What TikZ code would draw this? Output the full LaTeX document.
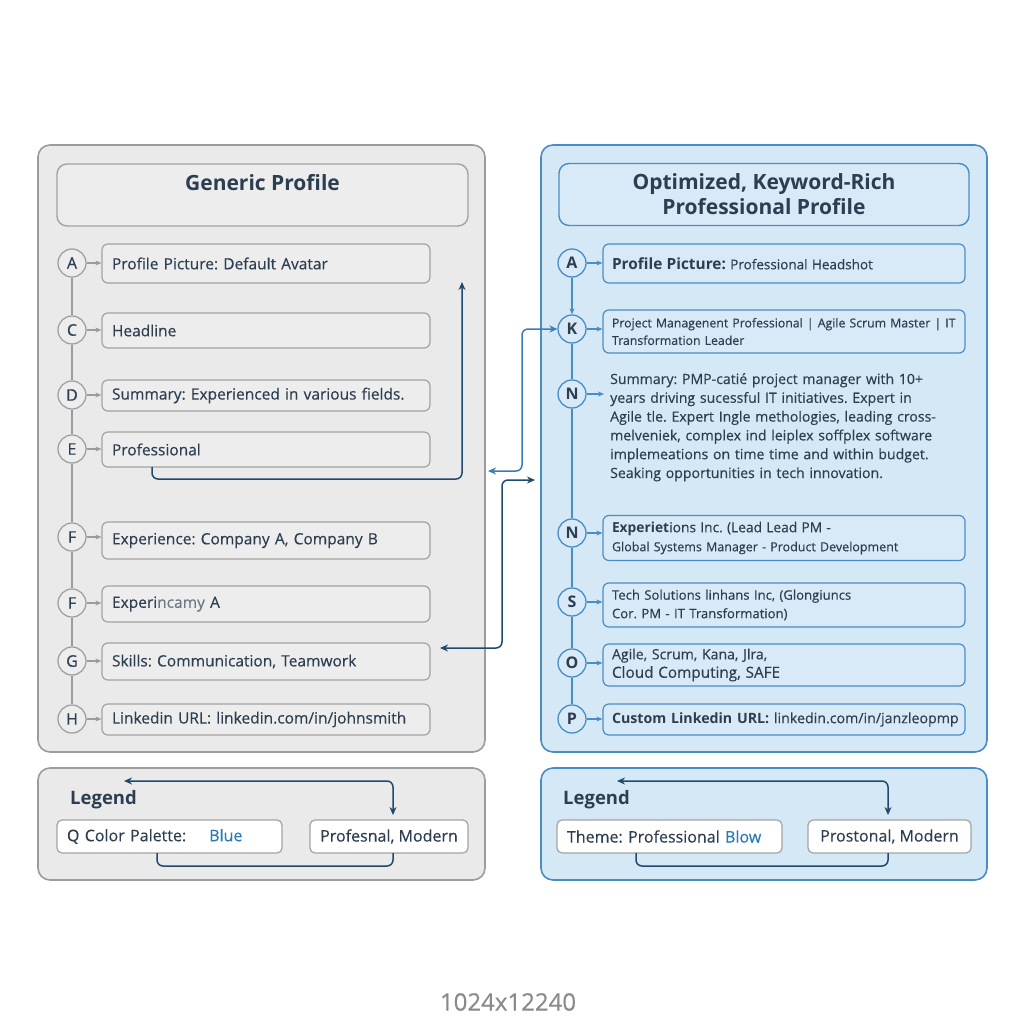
\documentclass[tikz,border=0pt]{standalone}
\usepackage{fontspec}
\setmainfont{Open Sans}[UprightFeatures={FakeBold=0.3}]
\usetikzlibrary{arrows.meta}
\frenchspacing
\definecolor{gfill}{HTML}{EAEAEA}
\definecolor{gborder}{HTML}{9C9C9C}
\definecolor{gboxfill}{HTML}{EDEDED}
\definecolor{gboxborder}{HTML}{A3A3A3}
\definecolor{bfill}{HTML}{D5E8F5}
\definecolor{bborder}{HTML}{4A8CC4}
\definecolor{bboxfill}{HTML}{D8EAF7}
\definecolor{txt}{HTML}{2C3E50}
\definecolor{navy}{HTML}{1F4A6E}
\definecolor{bconn}{HTML}{3A7DB5}
\definecolor{bluetxt}{HTML}{2A7AB8}
\definecolor{capgray}{HTML}{8A8A8A}
\tikzset{
  >={Stealth[length=8pt,width=7pt]},
  gpanel/.style={draw=gborder, fill=gfill, line width=1.6pt, rounded corners=12pt},
  bpanel/.style={draw=bborder, fill=bfill, line width=1.6pt, rounded corners=12pt},
  ghead/.style={draw=gboxborder, fill=gboxfill, line width=1.4pt, rounded corners=10pt, text=txt, font=\fontsize{21}{25}\selectfont\bfseries, align=center},
  bhead/.style={draw=bborder, fill=bboxfill, line width=1.4pt, rounded corners=10pt, text=txt, font=\fontsize{21}{25}\selectfont\bfseries, align=center},
  gbox/.style={draw=gboxborder, fill=gboxfill, line width=1.2pt, rounded corners=6pt, text=txt, font=\fontsize{15.5}{18}\selectfont, align=left, inner xsep=10pt, inner ysep=0pt, minimum width=328, text width=308},
  bbox/.style={draw=bborder, fill=bboxfill, line width=1.2pt, rounded corners=6pt, text=txt, font=\fontsize{13}{18}\selectfont, align=left, inner xsep=9pt, inner ysep=0pt, minimum width=362, text width=344},
  gcirc/.style={circle, draw=gborder, fill=gboxfill, line width=1.2pt, minimum size=28, inner sep=0pt, text=txt, font=\fontsize{16}{16}\selectfont},
  bcirc/.style={circle, draw=bborder, fill=bboxfill, line width=1.3pt, minimum size=28, inner sep=0pt, text=txt, font=\fontsize{16}{16}\selectfont\bfseries},
  gline/.style={draw=gborder, line width=1.3pt},
  bline/.style={draw=bborder, line width=1.4pt},
  garr/.style={draw=gborder, line width=1.1pt, -{Stealth[length=6pt,width=5pt]}},
  barr/.style={draw=bborder, line width=1.2pt, -{Stealth[length=6pt,width=5pt]}},
  navyconn/.style={draw=navy, line width=1.5pt, rounded corners=6pt},
  blueconn/.style={draw=bconn, line width=1.5pt, rounded corners=6pt},
  legbox/.style={draw=gboxborder, fill=white, line width=1.2pt, rounded corners=5pt, text=txt, font=\fontsize{16}{18}\selectfont, inner xsep=10pt, inner ysep=0pt, minimum height=33},
  legtitle/.style={text=txt, font=\fontsize{18.5}{20}\selectfont\bfseries, anchor=west, inner sep=0pt},
}
\begin{document}
\begin{tikzpicture}[x=1pt,y=-1pt]
\fill[white] (0,0) rectangle (1024,1024);
\useasboundingbox (0,0) rectangle (1024,1024);

% ---------- panels ----------
\node[gpanel, minimum width=447, minimum height=607] (lpanel) at (261.5,448.5) {};
\node[bpanel, minimum width=446, minimum height=607] (rpanel) at (764,448.5) {};
\node[gpanel, minimum width=447, minimum height=112] (lleg) at (261.5,824) {};
\node[bpanel, minimum width=446, minimum height=112] (rleg) at (764,824) {};

% ---------- headers ----------
\node[ghead, minimum width=411, minimum height=62] (lhead) at (262.5,195) {Generic Profile\\[1pt]\mbox{}};
\node[bhead, minimum width=410, minimum height=62] (rhead) at (764,194.5) {Optimized, Keyword-Rich\\Professional Profile};

% ---------- left rows ----------
\node[gbox, minimum height=39] (lA) at (266,263.5) {Profile Picture: Default Avatar};
\node[gbox, minimum height=35] (lC) at (266,330.5) {Headline};
\node[gbox, minimum height=31] (lD) at (266,395.5) {Summary: Experienced in various fields.};
\node[gbox, minimum height=35] (lE) at (266,449.5) {Professional};
\node[gbox, minimum height=37] (lF1) at (266,540.5) {Experience: Company A, Company B};
\node[gbox, minimum height=36] (lF2) at (266,604) {Experi\textcolor{txt!70}{ncamy} A};
\node[gbox, minimum height=37] (lG) at (266,661.5) {Skills: Communication, Teamwork};
\node[gbox, minimum height=31] (lH) at (266,719.5) {Linkedin URL: linkedin.com/in/johnsmith};

\node[gcirc] (cA) at (72,263) {A};
\node[gcirc] (cC) at (72,330) {C};
\node[gcirc] (cD) at (72,395) {D};
\node[gcirc] (cE) at (72,449) {E};
\node[gcirc] (cF1) at (72,537) {F};
\node[gcirc] (cF2) at (72,603) {F};
\node[gcirc] (cG) at (72,661) {G};
\node[gcirc] (cH) at (72,719) {H};

\draw[gline] (cA) -- (cC);
\draw[gline] (cC) -- (cD);
\draw[gline] (cD) -- (cE);
\draw[gline] (cE) -- (cF1);
\draw[gline] (cF1) -- (cF2);
\draw[gline] (cF2) -- (cG);
\draw[gline] (cG) -- (cH);

\foreach \c/\b in {cA/lA, cC/lC, cD/lD, cE/lE, cG/lG, cH/lH}
  \draw[garr] (\c.east) -- (\c.east -| \b.west);
\draw[garr] (cF1.east) -- (cF1.east -| lF1.west);
\draw[garr] (cF2.east) -- (cF2.east -| lF2.west);

% ---------- right rows ----------
\node[bbox, minimum height=39] (rA) at (784,263.5) {\mbox{\fontsize{15.4}{18}\selectfont\bfseries Profile Picture: \fontsize{13.5}{18}\selectfont\mdseries Professional Headshot}};
\node[bbox, minimum height=43, font=\fontsize{12.3}{17.5}\selectfont] (rK) at (784,331.5) {\mbox{Project Managenent Professional | Agile Scrum Master | IT}\\\mbox{Transformation Leader}};
\node[text=txt, font=\fontsize{14.1}{18.8}\selectfont, align=left, anchor=north west, inner sep=0pt, text width=352] (rNtext) at (610,373) {\mbox{Summary: PMP-catié project manager with 10+}\\\mbox{years driving sucessful IT initiatives. Expert in}\\\mbox{Agile tle. Expert Ingle methologies, leading cross-}\\\mbox{melveniek, complex ind leiplex soffplex software}\\\mbox{implemeations on time time and within budget.}\\\mbox{Seaking opportunities in tech innovation.}};
\node[bbox, minimum height=45, font=\fontsize{12.5}{19}\selectfont] (rN2) at (784,538) {\mbox{\fontsize{13.8}{19}\selectfont\bfseries Experiet\mdseries ions Inc. (Lead Lead PM -}\\\mbox{Global Systems Manager - Product Development}};
\node[bbox, minimum height=44, font=\fontsize{13.1}{18.5}\selectfont] (rS) at (784,605) {\mbox{Tech Solutions linhans Inc, (Glongiuncs}\\\mbox{Cor. PM - IT Transformation)}};
\node[bbox, minimum height=42, font=\fontsize{14.1}{18.5}\selectfont] (rO) at (784,665) {\mbox{Agile, Scrum, Kana, Jlra,}\\\mbox{\fontsize{15.3}{18.5}\selectfont Cloud Computing, SAFE}};
\node[bbox, minimum height=31, font=\fontsize{14.2}{18}\selectfont] (rP) at (784,719.5) {\mbox{\textbf{Custom Linkedin URL:} linkedin.com/in/janzleopmp}};

\node[bcirc] (kA) at (572,263) {A};
\node[bcirc] (kK) at (572,329) {K};
\node[bcirc] (kN1) at (572,394) {N};
\node[bcirc] (kN2) at (572,533) {N};
\node[bcirc] (kS) at (572,602) {S};
\node[bcirc] (kO) at (572,663) {O};
\node[bcirc] (kP) at (572,719) {P};

\draw[barr] (kA) -- (kK);
\draw[bline] (kK) -- (kN1);
\draw[bline] (kN1) -- (kN2);
\draw[bline] (kN2) -- (kS);
\draw[bline] (kS) -- (kO);
\draw[bline] (kO) -- (kP);

\coordinate (nEnd) at (604,394);
\draw[barr] (kA.east) -- (kA.east -| rA.west);
\draw[barr] (kK.east) -- (kK.east -| rK.west);
\draw[barr] (kN1.east) -- (nEnd);
\draw[barr] (kN2.east) -- (kN2.east -| rN2.west);
\draw[barr] (kS.east) -- (kS.east -| rS.west);
\draw[barr] (kO.east) -- (kO.east -| rO.west);
\draw[barr] (kP.east) -- (kP.east -| rP.west);

% ---------- connectors ----------
\coordinate (e1) at (152,467);
\coordinate (e2) at (462,282);
\draw[navyconn, ->] (e1) -- (152,479) -- (462,479) -- (e2);

\coordinate (m1) at (488,471);
\draw[blueconn, <->] (m1) -- (522,471) -- (522,329) -- (kK.west);

\coordinate (m2) at (535,480);
\coordinate (m3) at (440,648);
\draw[navyconn, <->] (m2) -- (502,480) -- (502,648) -- (m3);

% ---------- legends ----------
\node[legtitle] (lLegT) at (70,800) {Legend};
\node[legtitle] (rLegT) at (563,800) {Legend};

\node[legbox, minimum width=225, text width=205, align=left] (lL1) at (169.5,836.5) {Q Color Palette:\hspace{23pt}\textcolor{bluetxt}{Blue}};
\node[legbox, minimum width=158, align=center] (lL2) at (389,836.5) {Profesnal, Modern};
\node[legbox, minimum width=225, text width=205, align=left] (rL1) at (669.5,836.5) {Theme: Professional \textcolor{bluetxt}{Blow}};
\node[legbox, minimum width=163, align=center] (rL2) at (889.5,836.5) {Prostonal, Modern};

\coordinate (la) at (124,781);
\coordinate (lb) at (393,815);
\draw[navyconn, <->] (la) -- (393,781) -- (lb);
\coordinate (lc) at (157,853);
\coordinate (ld) at (393,853);
\draw[navyconn] (lc) -- (157,866) -- (393,866) -- (ld);

\coordinate (ra) at (617,781);
\coordinate (rb) at (888,815);
\draw[navyconn, <->] (ra) -- (888,781) -- (rb);
\coordinate (rc) at (636,853);
\coordinate (rd) at (888,853);
\draw[navyconn] (rc) -- (636,866) -- (888,866) -- (rd);

% ---------- caption ----------
\node[text=capgray, font=\fontsize{24}{28}\selectfont] (cap) at (508,1002) {1024x12240};
\end{tikzpicture}
\end{document}
